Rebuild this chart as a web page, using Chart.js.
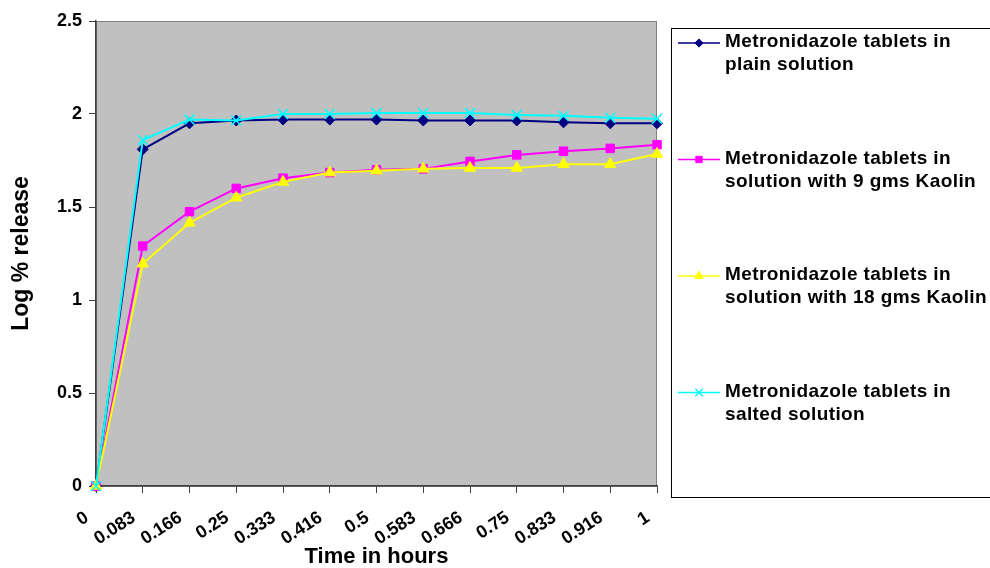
<!DOCTYPE html>
<html>
<head>
<meta charset="utf-8">
<title>Log % release</title>
<script src="https://cdn.jsdelivr.net/npm/chart.js@4.4.1/dist/chart.umd.min.js"></script>
<style>
    html, body { margin: 0; padding: 0; background: #fff; }
    #wrap { position: relative; width: 990px; height: 568px; }
</style>
</head>
<body>
<div id="wrap"><canvas id="releaseChart" width="990" height="568"></canvas></div>
<script>
// values
const timeLabels = ['0', '0.083', '0.166', '0.25', '0.333', '0.416', '0.5', '0.583', '0.666', '0.75', '0.833', '0.916', '1'];
const plainSolution  = [0, 1.81, 1.95, 1.965, 1.97, 1.97, 1.97, 1.965, 1.965, 1.965, 1.955, 1.95, 1.95];
const kaolin9gms     = [0, 1.29, 1.475, 1.60, 1.655, 1.685, 1.70, 1.705, 1.745, 1.78, 1.80, 1.815, 1.835];
const kaolin18gms    = [0, 1.195, 1.415, 1.55, 1.635, 1.685, 1.695, 1.705, 1.71, 1.71, 1.73, 1.73, 1.785];
const saltedSolution = [0, 1.86, 1.97, 1.965, 2.0, 2.0, 2.005, 2.005, 2.005, 1.995, 1.99, 1.98, 1.975];
const yTicks = [0, 0.5, 1, 1.5, 2, 2.5];
const seriesNames = [
    ['Metronidazole tablets in', 'plain solution'],
    ['Metronidazole tablets in', 'solution with 9 gms Kaolin'],
    ['Metronidazole tablets in', 'solution with 18 gms Kaolin'],
    ['Metronidazole tablets in', 'salted solution']
];

const FONT = 'Arial, "Liberation Sans", sans-serif';

function series(i, values, color, style, radius, fill) {
    return {
        label: seriesNames[i].join(' '),
        data: values,
        borderColor: color,
        backgroundColor: color,
        borderWidth: 2,
        pointStyle: style,
        pointRadius: radius,
        pointBackgroundColor: fill,
        pointBorderColor: color,
        pointBorderWidth: style === 'crossRot' ? 1.5 : 1,
        tension: 0,
        clip: false,
        order: 3 - i // later series drawn on top, like the original
    };
}

// grey plot area + thin frame
const plotBackground = {
    id: 'plotBackground',
    beforeDraw(chart) {
        const { ctx, chartArea: a } = chart;
        ctx.save();
        ctx.fillStyle = '#C0C0C0';
        ctx.fillRect(a.left, a.top, a.right - a.left, a.bottom - a.top);
        ctx.strokeStyle = '#808080';
        ctx.lineWidth = 1;
        ctx.strokeRect(a.left + 0.5, a.top + 0.5, a.right - a.left - 1, a.bottom - a.top);
        ctx.restore();
    }
};

// boxed legend on the right, two text lines per entry
const sideLegend = {
    id: 'sideLegend',
    afterDraw(chart) {
        const ctx = chart.ctx;
        ctx.save();
        ctx.strokeStyle = '#000';
        ctx.lineWidth = 1;
        ctx.strokeRect(671.5, 28.5, 330, 469);
        chart.data.datasets.forEach((ds, i) => {
            const y = 43 + i * 116.5;
            ctx.strokeStyle = ds.borderColor;
            ctx.lineWidth = 1.5;
            ctx.beginPath();
            ctx.moveTo(678, y);
            ctx.lineTo(720, y);
            ctx.stroke();
            ctx.fillStyle = ds.pointBackgroundColor;
            ctx.strokeStyle = ds.pointBorderColor;
            ctx.lineWidth = ds.pointBorderWidth;
            Chart.helpers.drawPoint(ctx, {
                pointStyle: ds.pointStyle,
                radius: ds.pointRadius * 0.75,
                rotation: 0,
                borderWidth: ds.pointBorderWidth
            }, 699, y);
            ctx.fillStyle = '#000';
            ctx.font = 'bold 19px ' + FONT;
            ctx.letterSpacing = '0.4px';
            ctx.textBaseline = 'middle';
            ctx.textAlign = 'left';
            seriesNames[i].forEach((line, k) => ctx.fillText(line, 725, y - 1 + k * 23));
            ctx.letterSpacing = '0px';
        });
        ctx.restore();
    }
};

new Chart(document.getElementById('releaseChart'), {
    type: 'line',
    data: {
        labels: timeLabels,
        datasets: [
            series(0, plainSolution, '#000080', 'rectRot', 5.5, '#000080'),
            series(1, kaolin9gms, '#FF00FF', 'rect', 6, '#FF00FF'),
            series(2, kaolin18gms, '#FFFF00', 'triangle', 6.5, '#FFFF00'),
            series(3, saltedSolution, '#00FFFF', 'crossRot', 7, '#00FFFF')
        ]
    },
    options: {
        responsive: false,
        animation: false,
        events: [],
        devicePixelRatio: 1,
        layout: { padding: { left: 0, top: 21, right: 333, bottom: 0 } },
        plugins: {
            legend: { display: false },
            tooltip: { enabled: false }
        },
        scales: {
            x: {
                type: 'category',
                offset: false,
                grid: { drawOnChartArea: false, drawTicks: true, tickLength: 7, color: '#404040' },
                border: { color: '#404040', width: 1.5 },
                ticks: {
                    color: '#000',
                    font: { family: FONT, size: 18, weight: 'bold' },
                    minRotation: 33,
                    maxRotation: 33,
                    autoSkip: false,
                    padding: 14,
                    labelOffset: -9
                },
                title: {
                    display: true,
                    text: 'Time in hours',
                    color: '#000',
                    font: { family: FONT, size: 22, weight: 'bold', lineHeight: 1 },
                    padding: { top: 0, bottom: 0 }
                },
                afterFit: (scale) => { scale.height = 82; }
            },
            y: {
                min: 0,
                max: 2.5,
                grid: { drawOnChartArea: false, drawTicks: true, tickLength: 7, color: '#404040' },
                border: { color: '#404040', width: 1.5 },
                afterBuildTicks: (scale) => { scale.ticks = yTicks.map(v => ({ value: v })); },
                ticks: {
                    color: '#000',
                    font: { family: FONT, size: 18, weight: 'bold' },
                    padding: 7,
                    callback: (value) => String(value)
                },
                title: {
                    display: true,
                    text: 'Log % release',
                    color: '#000',
                    font: { family: FONT, size: 23, weight: 'bold', lineHeight: 1.2 },
                    padding: { top: 8, bottom: 0 }
                },
                afterFit: (scale) => { scale.width = 96; }
            }
        }
    },
    plugins: [plotBackground, sideLegend]
});
</script>
</body>
</html>
